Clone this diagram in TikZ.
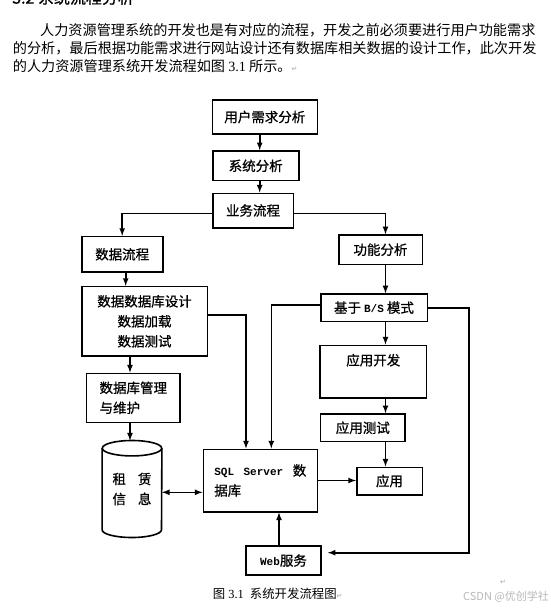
\documentclass[tikz,border=0pt]{standalone}
\usepackage{fontspec}
\setmainfont{Liberation Serif}
\setmonofont{Liberation Mono}
\newfontfamily\cjk{Noto Sans CJK SC}
\newfontfamily\cjkbox[FakeBold=0.8]{Noto Sans CJK SC}
\newfontfamily\symfont{DejaVu Sans}
\newcommand\boxtt[1]{{\ttfamily\bfseries\fontsize{11}{20}\selectfont #1}}
\newcommand\parmark{{\symfont\color{gray!70}\fontsize{7}{7}\selectfont ↵}}

\begin{document}
\begin{tikzpicture}[
  x=1pt, y=-1pt,
  every node/.style={inner sep=0pt},
  box/.style={shape=rectangle, draw, line width=1.6pt, font=\cjkbox\fontsize{13.5}{20}\selectfont},
  store/.style={shape=rectangle, minimum width=59.4pt, minimum height=96.6pt, align=center, font=\cjkbox\fontsize{13.5}{20}\selectfont},
  arr/.style={draw, line width=1.6pt, -latex},
  para/.style={anchor=west, font=\cjk\fontsize{14.15}{18}\selectfont}
]
\fill[white] (0,0) rectangle (550,608);
\useasboundingbox (0,0) rectangle (550,608);

% text round the figure
\node[anchor=west, font=\cjkbox\fontsize{16}{16}\selectfont] (head) at (12,-2.5) {3.2 系统流程分析};
\node[para] (line1) at (40,30) {人力资源管理系统的开发也是有对应的流程，开发之前必须要进行用户功能需求};
\node[para] (line2) at (12.7,48.3) {的分析，最后根据功能需求进行网站设计还有数据库相关数据的设计工作，此次开发};
\node[para] (line3) at (12.7,66) {的人力资源管理系统开发流程如图 {\rmfamily 3.1} 所示。\parmark};

% boxes
\node[box, minimum width=105pt, minimum height=34pt] (need) at (264.8,117) {用户需求分析};
\node[box, minimum width=86pt, minimum height=29.7pt] (sysana) at (255.7,165.8) {系统分析};
\node[box, minimum width=80.6pt, minimum height=34.4pt] (biz) at (253,210.5) {业务流程};
\node[box, minimum width=81pt, minimum height=35.3pt] (dataflow) at (122.2,254.3) {数据流程};
\node[box, minimum width=83.6pt, minimum height=29.3pt] (func) at (380.5,249.7) {功能分析};
\node[box, minimum width=125.6pt, minimum height=69.3pt, align=center] (dbdesign) at (144.5,321.3) {数据数据库设计\\数据加载\\数据测试};
\node[box, minimum width=106.6pt, minimum height=27.3pt] (bs) at (374,307.7) {基于 \boxtt{B/S} 模式};
\node[box, minimum width=106.7pt, minimum height=52.4pt] (appdev) at (373.3,371.5) {};
\node[font=\cjkbox\fontsize{13.5}{20}\selectfont] (appdevtext) at ([yshift=-15.7pt]appdev.north) {应用开发};
\node[box, minimum width=84.3pt, minimum height=27.7pt] (apptest) at (362.8,427.8) {应用测试};
\node[box, minimum width=93.3pt, minimum height=49pt, align=left] (dbmaint) at (133.3,397.8) {数据库管理\\与维护};
\node[box, minimum width=114pt, minimum height=62.4pt, align=left] (sql) at (260.3,480.5) {\makebox[92pt]{\boxtt{SQL}\hfill\boxtt{Server}\hfill 数}\\据库};
\node[box, minimum width=65.6pt, minimum height=27.4pt] (app) at (389.5,481) {应用};
\node[box, minimum width=75pt, minimum height=29pt] (web) at (283.5,560.5) {\boxtt{Web}服务};
\node[store] (rent) at (132,489) {租\hspace{12pt}赁\\信\hspace{12pt}息};
\draw[line width=1.6pt] ([yshift=-7.7pt]rent.north west) -- ([yshift=7.7pt]rent.south west)
  arc[start angle=180, end angle=360, x radius=29.7pt, y radius=7.7pt] -- ([yshift=-7.7pt]rent.north east);
\draw[line width=1.6pt] ([yshift=-7.7pt]rent.north) ellipse [x radius=29.7pt, y radius=7.7pt];

% connectors
\coordinate (ax) at (259.7,0);
\coordinate (rx) at (385.5,0);
\coordinate (lxa) at (125.7,0);
\coordinate (lxb) at (130,0);
\coordinate (wx) at (279,0);
\coordinate (turn) at (468.7,552.7);
\draw[arr] (need.south -| ax) -- (sysana.north -| ax);
\draw[arr] (sysana.south -| ax) -- (biz.north -| ax);
\draw[arr] ([yshift=-2.8pt]biz.west) -| (dataflow.north);
\draw[arr] ([yshift=-2.8pt]biz.east) -| (func.north -| rx);
\draw[arr] (func.south -| rx) -- (bs.north -| rx);
\draw[arr] (bs.south -| rx) -- (appdev.north -| rx);
\draw[arr] (appdev.south -| rx) -- (apptest.north -| rx);
\draw[arr] (apptest.south -| rx) -- (app.north -| rx);
\draw[arr] (dataflow.south -| lxa) -- (dbdesign.north -| lxa);
\draw[arr] (dbdesign.south -| lxb) -- (dbmaint.north -| lxb);
\draw[arr] (dbmaint.south -| lxb) -- (rent.north -| lxb);
\draw[arr] ([yshift=6.3pt]dbdesign.east) -| ([xshift=-14.3pt]sql.north);
\draw[arr] ([yshift=2.7pt]bs.west) -| ([xshift=11pt]sql.north);
\draw[arr, shorten >=6pt] (bs.east) -| (turn) -- (turn -| web.east);
\draw[arr] (web.north -| wx) -- (sql.south -| wx);
\draw[arr] (sql.east) -- (sql.east -| app.west);
\draw[latex-latex, line width=1.6pt] ([yshift=-3.3pt]rent.east) -- ([yshift=-3.3pt]rent.east -| sql.west);

% caption and marks
\node[anchor=west, font=\fontsize{12.4}{14}\selectfont] (caption) at (212.7,593.3) {{\cjk 图} 3.1\hspace{6pt}{\cjk 系统开发流程图}\parmark};
\node (pm) at (503,582.7) {\parmark};
\node[anchor=west, font=\cjk\fontsize{11}{11}\selectfont, text=gray!55] (mark) at (463,596.7) {CSDN @优创学社};
\end{tikzpicture}
\end{document}
